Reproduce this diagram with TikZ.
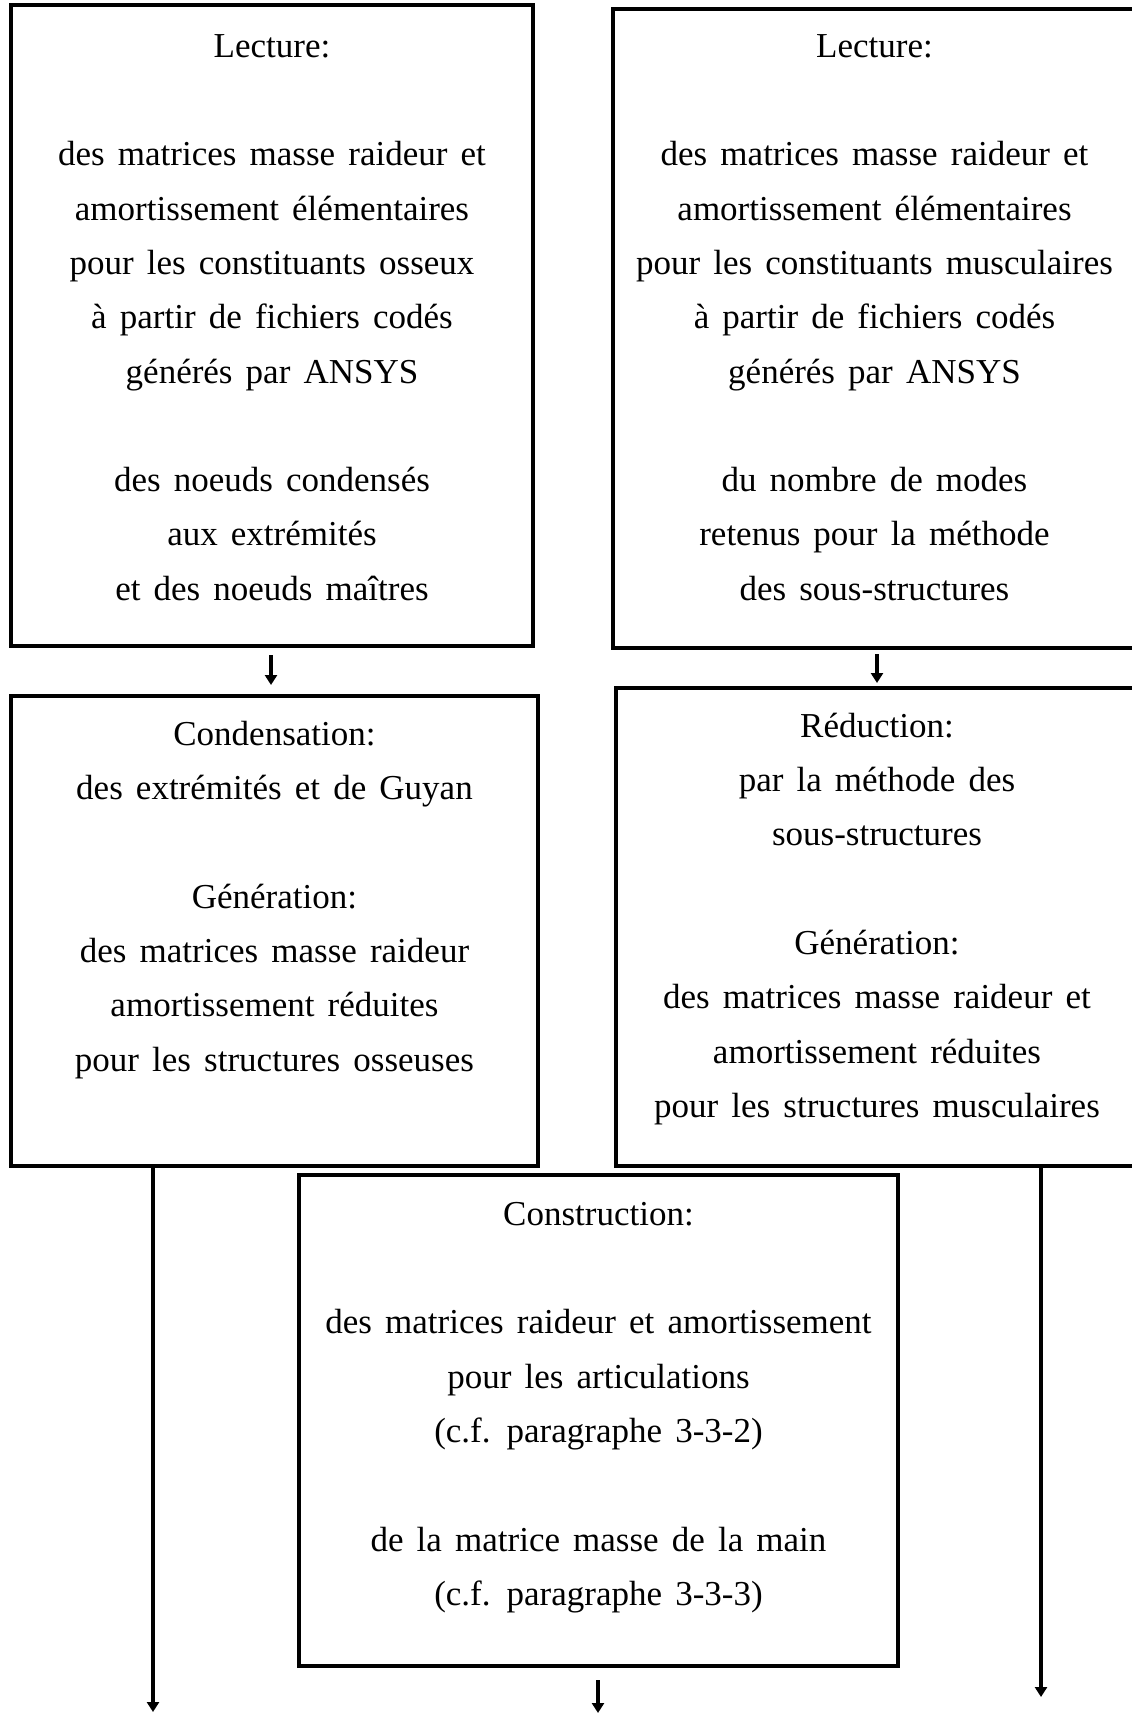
\documentclass[tikz,border=0pt]{standalone}
\usepackage{fontspec}
\setmainfont[WordSpace=1.5]{Liberation Serif}
\usetikzlibrary{arrows.meta}
\begin{document}
\begin{tikzpicture}[x=1pt,y=-1pt,
  box/.style={draw=black, line width=3.5pt, inner sep=0pt, outer sep=0pt},
  txt/.style={align=center, inner sep=0pt, anchor=north, font=\fontsize{35}{54.3}\selectfont},
  flow/.style={line width=3.5pt, -{Triangle[width=12pt,length=10pt]}},
  longflow/.style={line width=4pt, -{Triangle[width=12pt,length=10pt]}}]
\useasboundingbox (0,0) rectangle (1132,1714);
\fill[white] (0,0) rectangle (1132,1714);

\node[box, minimum width=522pt, minimum height=641pt] (L1) at (272,325.5) {};
\node[box, minimum width=523pt, minimum height=639pt] (R1) at (874.5,328.5) {};
\node[box, minimum width=527pt, minimum height=470pt] (L2) at (274.5,931) {};
\node[box, minimum width=522pt, minimum height=478pt] (R2) at (877,927) {};
\node[box, minimum width=599pt, minimum height=491pt] (C) at (598.5,1420.5) {};

\newcommand\strutA{\rule{0pt}{30pt}}
\node[txt] (L1t) at (272,27) {\strutA Lecture:\\[54.3pt]
des matrices masse raideur et\\
amortissement élémentaires\\
pour les constituants osseux\\
à partir de fichiers codés\\
générés par ANSYS\\[54.3pt]
des noeuds condensés\\
aux extrémités\\
et des noeuds maîtres};

\node[txt] (R1t) at (874.5,27) {\strutA Lecture:\\[54.3pt]
des matrices masse raideur et\\
amortissement élémentaires\\
pour les constituants musculaires\\
à partir de fichiers codés\\
générés par ANSYS\\[54.3pt]
du nombre de modes\\
retenus pour la méthode\\
des sous-structures};

\node[txt] (L2t) at (274.5,715) {\strutA Condensation:\\
des extrémités et de Guyan\\[54.3pt]
Génération:\\
des matrices masse raideur\\
amortissement réduites\\
pour les structures osseuses};

\node[txt] (R2t) at (877,707) {\strutA Réduction:\\
par la méthode des\\
sous-structures\\[54.3pt]
Génération:\\
des matrices masse raideur et\\
amortissement réduites\\
pour les structures musculaires};

\node[txt] (Ct) at (598.5,1195) {\strutA Construction:\\[54.3pt]
des matrices raideur et amortissement\\
pour les articulations\\
(c.f. paragraphe 3-3-2)\\[54.3pt]
de la matrice masse de la main\\
(c.f. paragraphe 3-3-3)};

\coordinate (lend) at (153,1712);
\coordinate (rend) at (1041,1697);
\coordinate (cend) at (598,1713);

\draw[flow, shorten <=9pt, shorten >=11pt] ([xshift=-1pt]L1.south) -- ([xshift=-3.5pt]L2.north);
\draw[flow, shorten <=6pt, shorten >=5pt] (R2.north |- R1.south) -- (R2.north);
\draw[longflow] (L2.south -| lend) -- (lend);
\draw[longflow] (R2.south -| rend) -- (rend);
\draw[flow, shorten <=14pt] (C.south -| cend) -- (cend);
\end{tikzpicture}
\end{document}
